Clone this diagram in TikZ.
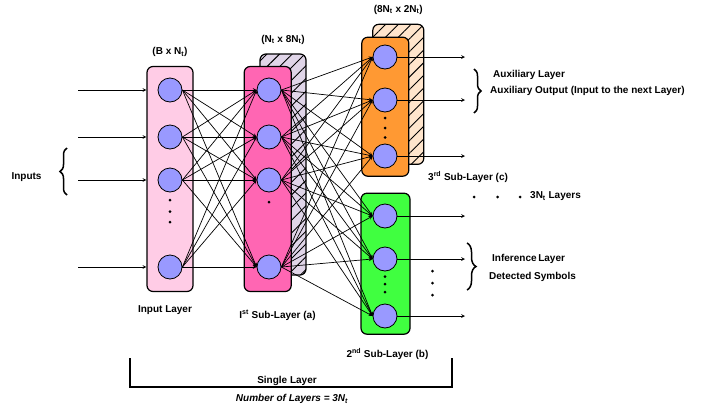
\documentclass[tikz,border=0pt]{standalone}
\usepackage{fontspec}
\setmainfont{Liberation Sans}
\usetikzlibrary{arrows,positioning,calc,patterns.meta,decorations.pathreplacing}

\definecolor{inputcol}{HTML}{FFCCE6}
\definecolor{subAcol}{HTML}{FF66B3}
\definecolor{subAback}{HTML}{E0D5E8}
\definecolor{subCcol}{HTML}{FF9933}
\definecolor{subCback}{HTML}{FFE5CC}
\definecolor{subBcol}{HTML}{40FF40}
\definecolor{neuroncol}{HTML}{9999FF}

\begin{document}
\begin{tikzpicture}[
    x=1pt, y=-1pt,
    layer/.style={rectangle, draw, line width=1.2pt, rounded corners=6pt},
    backlayer/.style={rectangle, draw, line width=1.2pt, rounded corners=6pt,
        postaction={pattern={Lines[angle=45,distance=9pt,line width=0.9pt]}}},
    neuron/.style={circle, draw, line width=0.8pt, fill=neuroncol, minimum size=24pt, inner sep=0pt},
    arrow/.style={->, line width=0.7pt, >=stealth},
    label/.style={font=\fontsize{10}{12}\selectfont\bfseries, inner sep=1pt},
    curly/.style={decorate, decoration={brace, amplitude=7pt}, line width=1.5pt},
    dot/.style={circle, fill, inner sep=0pt, minimum size=3pt}
]
\useasboundingbox (0,0) rectangle (715,410);

% Layer boxes
\node[backlayer, fill=subAback, minimum width=46pt, minimum height=221pt] (subAb) at (283,164.5) {};
\node[layer, fill=inputcol, minimum width=46pt, minimum height=225pt] (inbox) at (170,179) {};
\node[layer, fill=subAcol, minimum width=47pt, minimum height=225pt] (subA) at (267.7,179) {};
\node[backlayer, fill=subCback, minimum width=51pt, minimum height=140pt] (subCb) at (398.3,94.3) {};
\node[layer, fill=subCcol, minimum width=47pt, minimum height=139pt] (subC) at (385.3,106.7) {};
\node[layer, fill=subBcol, minimum width=49pt, minimum height=141pt] (subB) at (385.5,263.7) {};

% Input Layer neurons
\node[neuron] (in1) at (170,90) {};
\node[neuron] (in2) at (170,137) {};
\node[neuron] (in3) at (170,180) {};
\node[neuron] (in4) at (170,267) {};
\node[dot] (ind1) at (170,200) {};
\node[dot] (ind2) at (170,211.5) {};
\node[dot] (ind3) at (170,222) {};

% 1st Sub-Layer neurons
\node[neuron] (a1) at (269,90) {};
\node[neuron] (a2) at (269,137) {};
\node[neuron] (a3) at (269,180) {};
\node[neuron] (a4) at (269,267) {};
\node[dot] (ad1) at (269,202) {};

% 3rd Sub-Layer neurons
\node[neuron] (c1) at (385,57) {};
\node[neuron] (c2) at (385,100) {};
\node[neuron] (c3) at (385,156) {};
\node[dot] (cd1) at (385,118) {};
\node[dot] (cd2) at (385,128) {};
\node[dot] (cd3) at (385,137.5) {};

% 2nd Sub-Layer neurons
\node[neuron] (b1) at (385,216) {};
\node[neuron] (b2) at (385,259) {};
\node[neuron] (b3) at (385,316) {};
\node[dot] (bd1) at (385,276.5) {};
\node[dot] (bd2) at (385,284) {};
\node[dot] (bd3) at (385,292) {};

% Inputs
\coordinate (src1) at (78,90);
\coordinate (src2) at (78,137);
\coordinate (src3) at (78,180);
\coordinate (src4) at (78,267);
\foreach \i in {1,...,4}
    \draw[arrow] (src\i) -- (src\i -| inbox.west);

% Connections
\foreach \i in {1,...,4}
    \foreach \j in {1,...,4}
        \draw[arrow] (in\i.east) -- (a\j.west);
\foreach \i in {1,...,4}
    \foreach \j in {1,2,3} {
        \draw[arrow] (a\i.east) -- (c\j.west);
        \draw[arrow] (a\i.east) -- (b\j.west);
    }

% Outputs
\coordinate (outx) at (465,0);
\foreach \j in {1,2,3} {
    \draw[arrow] (c\j.east) -- (c\j.east -| outx);
    \draw[arrow] (b\j.east) -- (b\j.east -| outx);
}

% Dimension annotations
\node[label, above=8pt of inbox] (dimIn) {(B x N\textsubscript{t})};
\node[label, above=8pt of subAb] (dimA) {(N\textsubscript{t} x 8N\textsubscript{t})};
\node[label, above=8pt of subCb] (dimC) {(8N\textsubscript{t} x 2N\textsubscript{t})};

% Layer labels
\node[label] (inLbl) at (165,310) {Input Layer};
\node[label] (aLbl) at (277.5,315) {I\textsuperscript{st} Sub-Layer (a)};
\node[label, anchor=west] (cLbl) at (427,177) {3\textsuperscript{rd} Sub-Layer (c)};
\node[label] (bLbl) at (387.5,354) {2\textsuperscript{nd} Sub-Layer (b)};

% Inputs brace
\node[label] (inpLbl) at (26.5,177) {Inputs};
\draw[curly] (67,195) -- (67,148);

% Auxiliary brace
\draw[curly] (474,69) -- (474,113);
\node[label, anchor=west] (auxLbl) at (492,75) {Auxiliary Layer};
\node[label, anchor=west] (auxOut) at (489,91) {Auxiliary Output (Input to the next Layer)};

% More layers
\node[dot] (md1) at (474,197) {};
\node[dot] (md2) at (497.5,197) {};
\node[dot] (md3) at (520,197) {};
\node[label, anchor=west] (moreLbl) at (529,196.5) {3N\textsubscript{t} Layers};

% Inference brace
\node[dot] (vd1) at (432.5,271) {};
\node[dot] (vd2) at (432.5,283) {};
\node[dot] (vd3) at (432.5,295) {};
\draw[curly, decoration={amplitude=9pt}] (467,243) -- (467,290);
\node[label, anchor=west] (infLbl) at (491,259) {Inference\,Layer};
\node[label, anchor=west] (detLbl) at (488,277) {Detected Symbols};

% Single layer bracket
\coordinate (brL) at (130,358);
\coordinate (brR) at (452,358);
\draw[line width=1.2pt] (brL) -- ++(0,29) -| (brR);
\node[label] (singleLbl) at (287,381) {Single Layer};
\node[label, font=\fontsize{10}{12}\selectfont\bfseries\itshape] (numLbl) at (292,399) {Number of Layers = 3N\textsubscript{t}};

\end{tikzpicture}
\end{document}
